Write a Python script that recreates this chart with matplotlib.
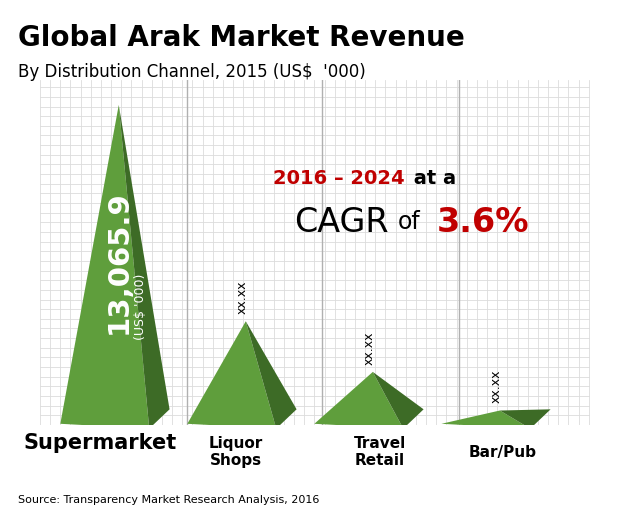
import matplotlib.pyplot as plt
from matplotlib.patches import Polygon
import numpy as np

channels = ["Supermarket", "Liquor\nShops", "Travel\nRetail", "Bar/Pub"]
revenue = [13065.9, 4100, 2000, 400]  # only Supermarket is published; others
value_labels = ["13,065.9", "xx.xx", "xx.xx", "xx.xx"]

LIGHT = "#5f9e3c"
DARK = "#3d6b26"

fig = plt.figure(figsize=(6.2, 5.2), dpi=100)
ax = fig.add_axes([40 / 620, 1 - 425 / 520, 550 / 620, 345 / 520])
ax.set_xlim(-0.62, 3.71)
ax.set_ylim(-200, 14100)

# background grid
for xv in np.arange(-0.62, 3.71, 0.08):
    ax.axvline(xv, color="#dcdcdc", lw=0.6, zorder=0)
for yv in np.arange(-200, 14100, 400):
    ax.axhline(yv, color="#dcdcdc", lw=0.6, zorder=0)
for xv in [0.54, 1.6, 2.68]:
    ax.axvline(xv, color="#b0b0b0", lw=1.0, zorder=0)
for s in ax.spines.values():
    s.set_visible(False)
ax.set_xticks([])
ax.set_yticks([])

for i, h in enumerate(revenue):
    apex = (i, h)
    left = (i - 0.46, -150)
    front = (i + 0.24, -350)
    right = (i + 0.4, 450)
    ax.add_patch(Polygon([apex, left, front], closed=True, fc=LIGHT, ec="none", zorder=3))
    ax.add_patch(Polygon([apex, front, right], closed=True, fc=DARK, ec="none", zorder=3))
    if i == 0:
        ax.text(i + 0.0, h * 0.5, value_labels[i], rotation=90, color="white",
                fontsize=21, fontweight="bold", ha="center", va="center", zorder=4)
        ax.text(i + 0.17, h * 0.36, "(US$ '000)", rotation=90, color="white",
                fontsize=9, ha="center", va="center", zorder=4)
    else:
        ax.text(i - 0.03, h + 300, value_labels[i], rotation=90, color="black",
                fontsize=9, ha="center", va="bottom", zorder=4)

ax.text(2.25, 10000, "2016 – 2024", color="#c00000", fontsize=14, fontweight="bold",
        ha="right", va="center")
ax.text(2.27, 10000, " at a", color="black", fontsize=14, fontweight="bold",
        ha="left", va="center")
ax.text(1.38, 8200, "CAGR", color="black", fontsize=24, ha="left", va="center")
ax.text(2.2, 8200, "of", color="black", fontsize=17, ha="left", va="center")
ax.text(2.5, 8200, "3.6%", color="#c00000", fontsize=24, fontweight="bold",
        ha="left", va="center")

# category labels
fig.text(100 / 620, 1 - 443 / 520, channels[0], fontsize=15, fontweight="bold",
         ha="center", va="center")
for i, xp in zip(range(1, 4), [236, 380, 503]):
    fig.text(xp / 620, 1 - 452 / 520, channels[i], fontsize=11, fontweight="bold",
             ha="center", va="center", linespacing=1.1)

fig.text(18 / 620, 1 - 38 / 520, "Global Arak Market Revenue", fontsize=20,
         fontweight="bold", ha="left", va="center")
fig.text(18 / 620, 1 - 72 / 520, "By Distribution Channel, 2015 (US$  '000)", fontsize=12,
         ha="left", va="center")
fig.text(18 / 620, 1 - 500 / 520, "Source: Transparency Market Research Analysis, 2016",
         fontsize=8, ha="left", va="center")

fig.savefig("out.png", dpi=100)
